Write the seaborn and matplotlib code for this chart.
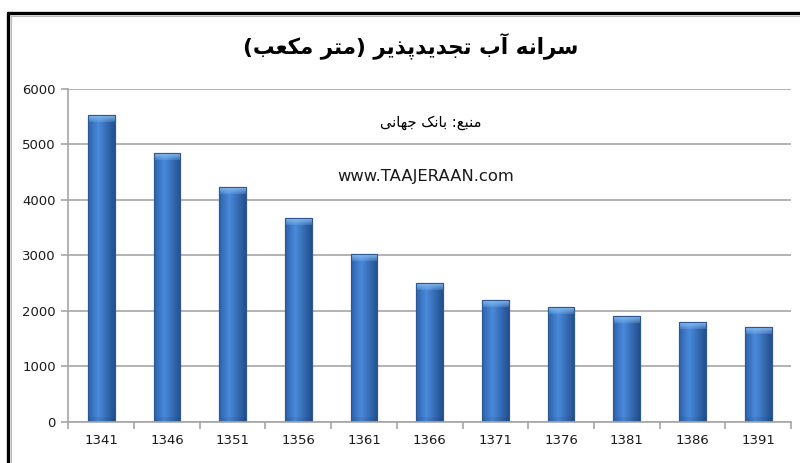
import numpy as np
import matplotlib
matplotlib.use('Agg')
import matplotlib.pyplot as plt
import matplotlib.colors as mcolors
import seaborn as sns
import pandas as pd
from matplotlib.lines import Line2D

# ---------------- data ----------------
years = ['1341', '1346', '1351', '1356', '1361', '1366',
         '1371', '1376', '1381', '1386', '1391']
values = [5530, 4840, 4240, 3680, 3030, 2500, 2190, 2060, 1900, 1800, 1710]
y_ticks = [0, 1000, 2000, 3000, 4000, 5000, 6000]
title_text = "سرانه آب تجدیدپذیر (متر مکعب)"
source_text = "منبع: بانک جهانی"
site_text = "www.TAAJERAAN.com"

# ------------- Persian shaping (matplotlib has no bidi/shaping) -------------
# letter: (isolated, final, initial, medial); None initial => right-joining only
FORMS = {
    'ا': ('\uFE8D', '\uFE8E', None, None),
    'آ': ('\uFE81', '\uFE82', None, None),
    'د': ('\uFEA9', '\uFEAA', None, None),
    'ذ': ('\uFEAB', '\uFEAC', None, None),
    'ر': ('\uFEAD', '\uFEAE', None, None),
    'ب': ('\uFE8F', '\uFE90', '\uFE91', '\uFE92'),
    'پ': ('\uFB56', '\uFB57', '\uFB58', '\uFB59'),
    'ت': ('\uFE95', '\uFE96', '\uFE97', '\uFE98'),
    'ج': ('\uFE9D', '\uFE9E', '\uFE9F', '\uFEA0'),
    'س': ('\uFEB1', '\uFEB2', '\uFEB3', '\uFEB4'),
    'ع': ('\uFEC9', '\uFECA', '\uFECB', '\uFECC'),
    'ک': ('\uFB8E', '\uFB8F', '\uFB90', '\uFB91'),
    'م': ('\uFEE1', '\uFEE2', '\uFEE3', '\uFEE4'),
    'ن': ('\uFEE5', '\uFEE6', '\uFEE7', '\uFEE8'),
    'ه': ('\uFEE9', '\uFEEA', '\uFEEB', '\uFEEC'),
    'ی': ('\uFBFC', '\uFBFD', '\uFBFE', '\uFBFF'),
}


def shape_rtl(text):
    chars = list(text)
    out = []
    for i, c in enumerate(chars):
        if c not in FORMS:
            out.append(c)
            continue
        iso, fin, ini, med = FORMS[c]
        prev = chars[i - 1] if i > 0 else None
        nxt = chars[i + 1] if i + 1 < len(chars) else None
        join_prev = prev in FORMS and FORMS[prev][2] is not None
        join_next = ini is not None and nxt in FORMS
        if join_prev and join_next:
            out.append(med)
        elif join_prev:
            out.append(fin)
        elif join_next:
            out.append(ini)
        else:
            out.append(iso)
    s = ''.join(reversed(out))
    return s.translate(str.maketrans('()', ')('))


# ---------------- figure ----------------
sns.set_style('white')
plt.rcParams['font.family'] = ['DejaVu Sans']

fig = plt.figure(figsize=(8.0, 4.63), dpi=100)
fig.patch.set_facecolor('white')
ax = fig.add_axes([0.0856, 0.0896, 0.903, 0.718])

df = pd.DataFrame({'year': years, 'value': values})
sns.barplot(data=df, x='year', y='value', ax=ax, color='#3A76C6',
            width=0.41, edgecolor='#2D5891', linewidth=0.8, saturation=1)

ax.set_ylim(0, 6000)
ax.set_xlim(-0.5, len(years) - 0.5)

# gradient fill for bars
dark_l = np.array(mcolors.to_rgb('#2D62AC'))
light = np.array(mcolors.to_rgb('#4A8ADB'))
dark_r = np.array(mcolors.to_rgb('#23508F'))
bevel = np.array(mcolors.to_rgb('#8CC0F4'))
px_per_unit = (0.718 * 463) / 6000.0
for p in list(ax.patches):
    x0 = p.get_x()
    w = p.get_width()
    h = p.get_height()
    ncol = 40
    t = np.linspace(0, 1, ncol)
    prof = np.empty((ncol, 3))
    for k, tt in enumerate(t):
        if tt < 0.38:
            a = tt / 0.38
            prof[k] = dark_l * (1 - a) + light * a
        else:
            a = (tt - 0.38) / 0.62
            prof[k] = light * (1 - a) + dark_r * a
    hpx = max(int(round(h * px_per_unit)), 10)
    img = np.repeat(prof[None, :, :], hpx, axis=0)
    # top bevel
    bev = 7
    for r in range(bev):
        a = 0.75 * (1 - r / bev) + 0.15
        img[r] = img[r] * (1 - a) + bevel * a
    # slightly darker bottom
    for r in range(hpx - 5, hpx):
        img[r] = img[r] * 0.94
    im = ax.imshow(img, extent=(x0, x0 + w, 0, h), aspect='auto',
                   origin='upper', zorder=p.get_zorder() + 0.1,
                   interpolation='bilinear')
    im.set_clip_path(p)
    edge = plt.Rectangle((x0, 0), w, h, fill=False, edgecolor='#2D5891',
                         linewidth=0.8, zorder=p.get_zorder() + 0.2)
    ax.add_patch(edge)

ax.set_ylim(0, 6000)
ax.set_xlim(-0.5, len(years) - 0.5)

# grid & spines
grid_c = '#A6A6A6'
ax.set_yticks(y_ticks)
ax.yaxis.grid(True, color=grid_c, linewidth=1.2)
ax.xaxis.grid(False)
ax.set_axisbelow(True)
for s in ['top', 'right']:
    ax.spines[s].set_visible(False)
for s in ['left', 'bottom']:
    ax.spines[s].set_color(grid_c)
    ax.spines[s].set_linewidth(1.2)

ax.set_xlabel('')
ax.set_ylabel('')
ax.tick_params(axis='y', direction='out', length=5, width=1.2, color=grid_c,
               labelsize=9.5, labelcolor='#1a1a1a', pad=4, left=True)
ax.tick_params(axis='x', which='major', length=0, labelsize=9.5,
               labelcolor='#1a1a1a', pad=9)
ax.set_xticks(np.arange(-0.5, len(years), 1.0), minor=True)
ax.tick_params(axis='x', which='minor', direction='out', length=5, width=1.2,
               color=grid_c, bottom=True)

# texts
fig.text(0.513, 0.902, shape_rtl(title_text), ha='center', va='center',
         fontsize=15.5, fontweight='bold', color='black', family=['DejaVu Sans'])
fig.text(0.538, 0.736, shape_rtl(source_text), ha='center', va='center',
         fontsize=10.5, color='black', family=['DejaVu Sans'])
fig.text(0.532, 0.618, site_text, ha='center', va='center',
         fontsize=11.8, color='#1a1a1a')

# frame lines (top and left border)
fig.add_artist(Line2D([8 / 800, 1.0], [1 - 13 / 463, 1 - 13 / 463],
                      transform=fig.transFigure, color='black', linewidth=2.4))
fig.add_artist(Line2D([8 / 800, 8 / 800], [0, 1 - 13 / 463],
                      transform=fig.transFigure, color='black', linewidth=2.4))
fig.add_artist(Line2D([10.5 / 800, 1.0], [1 - 15.5 / 463, 1 - 15.5 / 463],
                      transform=fig.transFigure, color='#BBBBBB', linewidth=0.8))
fig.add_artist(Line2D([10.5 / 800, 10.5 / 800], [0, 1 - 15.5 / 463],
                      transform=fig.transFigure, color='#BBBBBB', linewidth=0.8))

fig.savefig('out.png', dpi=100, facecolor='white')
